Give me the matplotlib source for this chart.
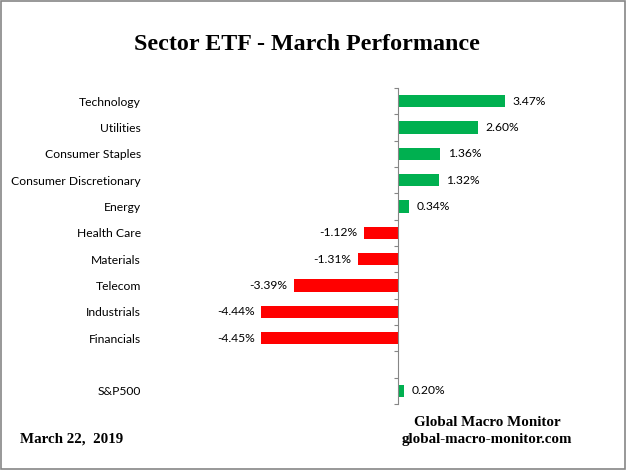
import numpy as np
import matplotlib
matplotlib.use("Agg")
import matplotlib.pyplot as plt
from matplotlib.patches import Rectangle

# data, top to bottom ("" is the blank slot before the index)
sectors = ["Technology", "Utilities", "Consumer Staples", "Consumer Discretionary",
           "Energy", "Health Care", "Materials", "Telecom", "Industrials", "Financials",
           "", "S&P500"]
returns = [3.47, 2.60, 1.36, 1.32, 0.34, -1.12, -1.31, -3.39, -4.44, -4.45, np.nan, 0.20]

GREEN = "#00B050"
RED = "#FF0000"

fig = plt.figure(figsize=(6.26, 4.70), dpi=100)
W, H = 626, 470
# axes placed in pixel terms: left 150, right 590, top 88, bottom 404
ax = fig.add_axes([150 / W, 1 - 404 / H, 440 / W, 316 / H])

ypos = np.arange(len(sectors))
vals = np.array(returns, dtype=float)
colors = [GREEN if v >= 0 else RED for v in np.nan_to_num(vals)]
ax.barh(ypos, np.nan_to_num(vals), height=0.48, color=colors)

for y, v in zip(ypos, vals):
    if np.isnan(v):
        continue
    if v >= 0:
        ax.text(v + 0.25, y, f"{v:.2f}%", va="center", ha="left",
                fontsize=8.7, family="Lato")
    else:
        ax.text(v - 0.2, y, f"{v:.2f}%", va="center", ha="right",
                fontsize=8.7, family="Lato")

ax.set_xlim(-8.05, 6.23)
ax.set_ylim(len(sectors) - 0.5, -0.5)

for s in ["top", "right", "bottom"]:
    ax.spines[s].set_visible(False)
ax.spines["left"].set_position(("data", 0))
ax.spines["left"].set_color("#868686")
ax.spines["left"].set_linewidth(0.8)
ax.set_xticks([])

ax.set_yticks(ypos)
ax.set_yticklabels(sectors, fontsize=8.7, family="Lato")
ax.tick_params(axis="y", which="major", length=0, pad=(398 - 141) * 0.72)
ax.set_yticks(np.arange(len(sectors) + 1) - 0.5, minor=True)
ax.tick_params(axis="y", which="minor", length=3, color="#868686", width=0.8)

fig.text(0.49, 1 - 45 / H, "Sector ETF - March Performance", ha="center", va="center",
         fontsize=17.3, fontweight="bold", family="Liberation Serif")
fig.text(20 / W, 1 - 439 / H, "March 22,  2019", ha="left", va="center",
         fontsize=10.8, fontweight="bold", family="Liberation Serif")
fig.text(487 / W, 1 - 422 / H, "Global Macro Monitor", ha="center", va="center",
         fontsize=10.8, fontweight="bold", family="Liberation Serif")
fig.text(487 / W, 1 - 440 / H, "global-macro-monitor.com", ha="center", va="center",
         fontsize=10.8, fontweight="bold", family="Liberation Serif")

fig.patches.append(Rectangle((0.0015, 0.002), 0.997, 0.996, transform=fig.transFigure,
                             fill=False, edgecolor="#868686", linewidth=1.2))

fig.savefig("out.png", dpi=100)
